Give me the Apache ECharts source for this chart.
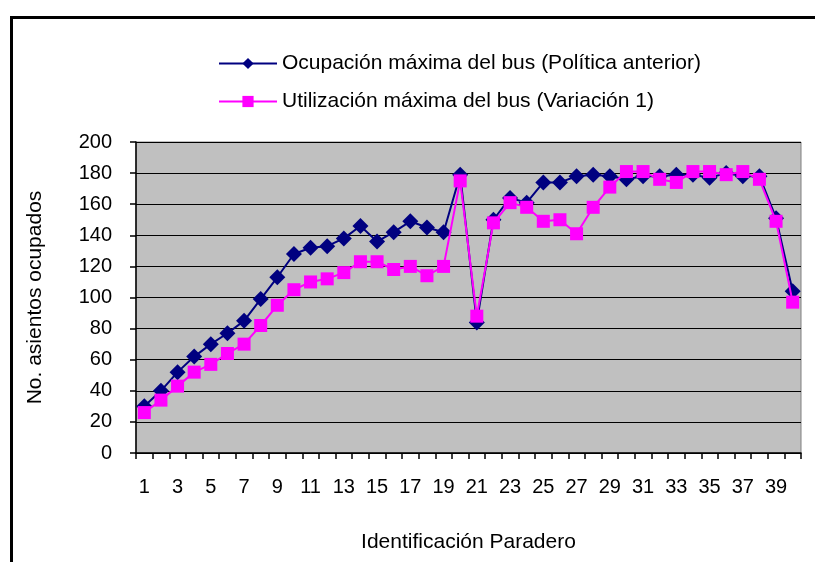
<!DOCTYPE html>
<html>
<head>
<meta charset="utf-8">
<script src="https://cdn.jsdelivr.net/npm/echarts@6/dist/echarts.min.js"></script>
<style>
  html, body { margin: 0; padding: 0; background: #fff; }
  #chart { width: 815px; height: 562px; }
</style>
</head>
<body>
<div id="chart"></div>
<script>
// paraderos 1..40
var paraderos = ['1','2','3','4','5','6','7','8','9','10',
  '11','12','13','14','15','16','17','18','19','20',
  '21','22','23','24','25','26','27','28','29','30',
  '31','32','33','34','35','36','37','38','39','40'];

// Ocupación máxima del bus (Política anterior)
var ocupacionAnterior = [30, 40, 52, 62, 70, 77, 85, 99, 113, 128,
  132, 133, 138, 146, 136, 142, 149, 145, 142, 179,
  84, 150, 164, 161, 174, 174, 178, 179, 178, 176,
  178, 178, 179, 179, 177, 180, 178, 178, 151, 104];

// Utilización máxima del bus (Variación 1)
var utilizacionVar1 = [26, 34, 43, 52, 57, 64, 70, 82, 95, 105,
  110, 112, 116, 123, 123, 118, 120, 114, 120, 175,
  88, 148, 161, 158, 149, 150, 141, 158, 171, 181,
  181, 176, 174, 181, 181, 179, 181, 176, 149, 97];

var yTicks = { min: 0, max: 200, interval: 20 };

var fuente = 'Liberation Sans, Arial, sans-serif';

var chart = echarts.init(document.getElementById('chart'), null, { renderer: 'canvas' });

var option = {
  backgroundColor: '#ffffff',
  animation: false,
  textStyle: { fontFamily: fuente, color: '#000' },
  graphic: [{
    type: 'rect',
    left: 9, top: 15,
    shape: { width: 900, height: 700 },
    style: { fill: 'none', stroke: '#000', lineWidth: 3 },
    silent: true
  }],
  legend: {
    orient: 'vertical',
    left: 213,
    top: 48,
    itemWidth: 58,
    itemHeight: 14,
    itemGap: 17,
    textStyle: { fontFamily: fuente, fontSize: 21, color: '#000' },
    data: ['Ocupación máxima del bus (Política anterior)', 'Utilización máxima del bus (Variación 1)']
  },
  grid: {
    left: 136, right: 14, top: 142, bottom: 109,
    show: true,
    backgroundColor: '#C0C0C0',
    borderColor: '#808080',
    borderWidth: 1
  },
  xAxis: {
    type: 'category',
    data: paraderos,
    boundaryGap: true,
    name: 'Identificación Paradero',
    nameLocation: 'middle',
    nameGap: 79,
    nameTextStyle: { fontFamily: fuente, fontSize: 21, color: '#000' },
    axisLine: { lineStyle: { color: '#000', width: 1.5 } },
    axisTick: { show: true, interval: 0, length: 6, lineStyle: { color: '#000', width: 1.5 } },
    axisLabel: { interval: 1, margin: 24, fontFamily: fuente, fontSize: 20, color: '#000' },
    splitLine: { show: false }
  },
  yAxis: {
    type: 'value',
    min: yTicks.min, max: yTicks.max, interval: yTicks.interval,
    name: 'No. asientos ocupados',
    nameLocation: 'middle',
    nameGap: 90,
    nameTextStyle: { fontFamily: fuente, fontSize: 21, color: '#000' },
    axisLine: { show: true, lineStyle: { color: '#000', width: 1.5 } },
    axisTick: { show: true, length: 6, lineStyle: { color: '#000', width: 1.5 } },
    axisLabel: { margin: 24, fontFamily: fuente, fontSize: 20, color: '#000' },
    splitLine: { show: true, lineStyle: { color: '#000', width: 1.2 } }
  },
  series: [{
    name: 'Ocupación máxima del bus (Política anterior)',
    type: 'line',
    data: ocupacionAnterior,
    symbol: 'diamond',
    symbolSize: [16, 16],
    showAllSymbol: true,
    itemStyle: { color: '#000080' },
    lineStyle: { color: '#000080', width: 2 },
    z: 2
  }, {
    name: 'Utilización máxima del bus (Variación 1)',
    type: 'line',
    data: utilizacionVar1,
    symbol: 'rect',
    symbolSize: 13,
    showAllSymbol: true,
    itemStyle: { color: '#FF00FF' },
    lineStyle: { color: '#FF00FF', width: 2 },
    z: 3
  }]
};

chart.setOption(option);
</script>
</body>
</html>
